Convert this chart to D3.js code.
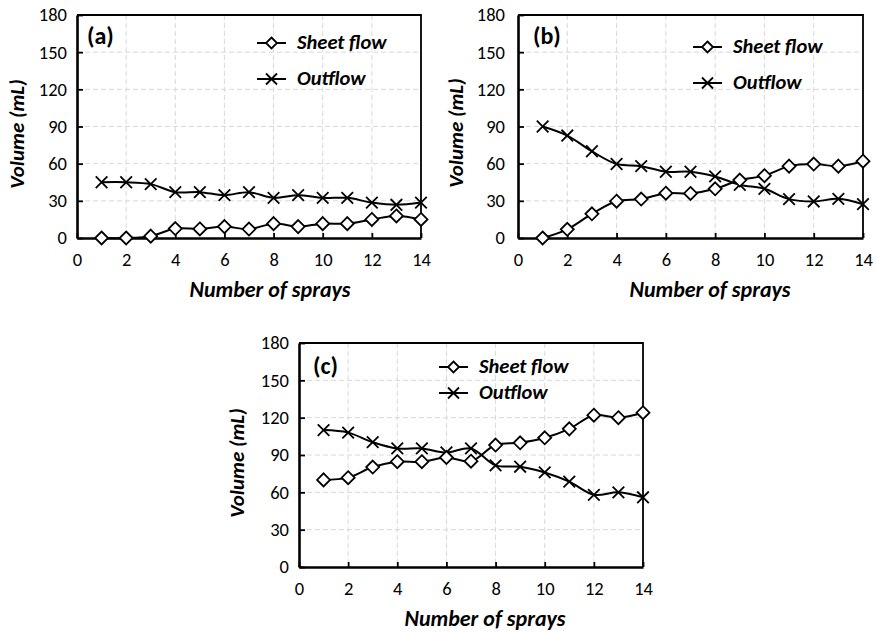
<!DOCTYPE html>
<html>
<head>
<meta charset="utf-8">
<script src="https://cdn.jsdelivr.net/npm/d3@7"></script>
<style>
  html, body { margin: 0; padding: 0; background: #fff; }
  svg { display: block; }
  text { font-family: Carlito, Calibri, "Open Sans", sans-serif; fill: #000; }
</style>
</head>
<body>
<svg id="chart" width="876" height="633"></svg>
<script>
// ---- data ----
const sprays = [1, 2, 3, 4, 5, 6, 7, 8, 9, 10, 11, 12, 13, 14];
const xTicks = [0, 2, 4, 6, 8, 10, 12, 14];
const yTicks = [0, 30, 60, 90, 120, 150, 180];
const seriesNames = ["Sheet flow", "Outflow"];
const panelLabels = ["(a)", "(b)", "(c)"];

const sheetA = [0, 0, 1.5, 7.6, 7.3, 9.2, 7.2, 11.6, 9.2, 11.6, 11.6, 15, 17.8, 15];
const outA   = [45, 45, 43.5, 37, 37, 34.6, 37, 32.4, 34.6, 32.4, 32.4, 28.6, 26.8, 28.6];

const sheetB = [0, 7, 19.5, 29.7, 31.4, 36.2, 36, 39.7, 46.8, 50.3, 58, 59.7, 58, 62];
const outB   = [90, 82.7, 70, 59.7, 58, 53.5, 53.5, 49.7, 43, 39.7, 31.4, 29.5, 31.6, 27.3];

const sheetC = [70, 71.8, 80.3, 84.6, 84.6, 88, 85, 98, 99.8, 103.8, 111, 122, 120, 124];
const outC   = [110, 108, 100.3, 95.3, 95.3, 92, 95.3, 81.7, 80.6, 76, 68.6, 58, 60, 56];

// ---- layout (positions only) ----
const panels = [
  { label: panelLabels[0], sheet: sheetA, out: outA,
    left: 77, right: 421, top: 15, bottom: 238, tickGap: 10, yLabX: 24, yLabY: 134, xLabX: 270,
    labX: 87, labY: 44, legX: 257, legY1: 43, legY2: 79 },
  { label: panelLabels[1], sheet: sheetB, out: outB,
    left: 518, right: 863, top: 15, bottom: 238, tickGap: 13, yLabX: 463, yLabY: 133, xLabX: 710,
    labX: 533, labY: 44, legX: 693, legY1: 47, legY2: 83 },
  { label: panelLabels[2], sheet: sheetC, out: outC,
    left: 299, right: 643, top: 343, bottom: 567, tickGap: 10, yLabX: 244, yLabY: 463, xLabX: 485,
    labX: 313, labY: 374, legX: 439, legY1: 367, legY2: 393 }
];

const svg = d3.select("#chart");
const FONT = 'Carlito, Calibri, "Open Sans", sans-serif';

function diamond(g, x, y, r) {
  g.append("path")
    .attr("d", `M${x},${y - r}L${x + r},${y}L${x},${y + r}L${x - r},${y}Z`)
    .attr("fill", "#fff").attr("stroke", "#000").attr("stroke-width", 1.8);
}
function cross(g, x, y, r) {
  g.append("path")
    .attr("d", `M${x - r},${y - r}L${x + r},${y + r}M${x - r},${y + r}L${x + r},${y - r}`)
    .attr("fill", "none").attr("stroke", "#000").attr("stroke-width", 1.8);
}

panels.forEach(p => {
  const g = svg.append("g");
  const x = d3.scaleLinear().domain([0, 14]).range([p.left, p.right]);
  const y = d3.scaleLinear().domain([0, 180]).range([p.bottom, p.top]);

  // grid
  g.append("g").selectAll("line").data(xTicks.filter(t => t > 0 && t < 14)).join("line")
    .attr("x1", d => x(d)).attr("x2", d => x(d)).attr("y1", p.top).attr("y2", p.bottom)
    .attr("stroke", "#d9d9d9").attr("stroke-width", 1).attr("stroke-dasharray", "5,3");
  g.append("g").selectAll("line").data(yTicks.filter(t => t > 0 && t < 180)).join("line")
    .attr("x1", p.left).attr("x2", p.right).attr("y1", d => y(d)).attr("y2", d => y(d))
    .attr("stroke", "#d9d9d9").attr("stroke-width", 1).attr("stroke-dasharray", "5,3");

  // frame top/right
  g.append("path")
    .attr("d", `M${p.left},${p.top}H${p.right}V${p.bottom}`)
    .attr("fill", "none").attr("stroke", "#000").attr("stroke-width", 1.8);

  // axes
  const xAxis = d3.axisBottom(x).tickValues(xTicks).tickSizeInner(-5).tickSizeOuter(0).tickPadding(15);
  const yAxis = d3.axisLeft(y).tickValues(yTicks).tickSizeInner(-6).tickSizeOuter(0).tickPadding(p.tickGap);
  const gx = g.append("g").attr("transform", `translate(0,${p.bottom})`).call(xAxis);
  const gy = g.append("g").attr("transform", `translate(${p.left},0)`).call(yAxis);
  [gx, gy].forEach(a => {
    a.attr("font-family", FONT).attr("font-size", 18.5);
    a.select(".domain").attr("stroke", "#000").attr("stroke-width", 2.6);
    a.selectAll(".tick line").attr("stroke", "#000").attr("stroke-width", 1.8);
    a.selectAll(".tick text").attr("fill", "#000");
  });
  gx.selectAll(".tick text").attr("dy", "0.71em");

  // axis titles
  g.append("text").attr("x", p.xLabX).attr("y", p.bottom + 59)
    .attr("text-anchor", "middle").style("font-size", "22px")
    .style("font-weight", "bold").style("font-style", "italic").text("Number of sprays");
  g.append("text").attr("transform", `translate(${p.yLabX},${p.yLabY}) rotate(-90)`)
    .attr("text-anchor", "middle").style("font-size", "21px")
    .style("font-weight", "bold").style("font-style", "italic").text("Volume (mL)");

  // lines
  const line = d3.line().x((d, i) => x(sprays[i])).y(d => y(d)).curve(d3.curveCatmullRom.alpha(0.5));
  [p.sheet, p.out].forEach(s => {
    g.append("path").attr("d", line(s)).attr("fill", "none").attr("stroke", "#000").attr("stroke-width", 2);
  });
  p.out.forEach((v, i) => cross(g, x(sprays[i]), y(v), 5.8));
  p.sheet.forEach((v, i) => diamond(g, x(sprays[i]), y(v), 6.5));

  // panel label
  g.append("text").attr("x", p.labX).attr("y", p.labY)
    .style("font-size", "24px").style("font-weight", "bold").text(p.label);

  // legend
  [[p.legY1, seriesNames[0], diamond], [p.legY2, seriesNames[1], cross]].forEach(([ly, name, fn]) => {
    g.append("line").attr("x1", p.legX).attr("x2", p.legX + 29).attr("y1", ly).attr("y2", ly)
      .attr("stroke", "#000").attr("stroke-width", 2);
    fn(g, p.legX + 14.5, ly, 5.5);
    g.append("text").attr("x", p.legX + 40).attr("y", ly + 5.5)
      .style("font-size", "20.5px").style("font-weight", "bold").style("font-style", "italic").text(name);
  });
});
</script>
</body>
</html>
